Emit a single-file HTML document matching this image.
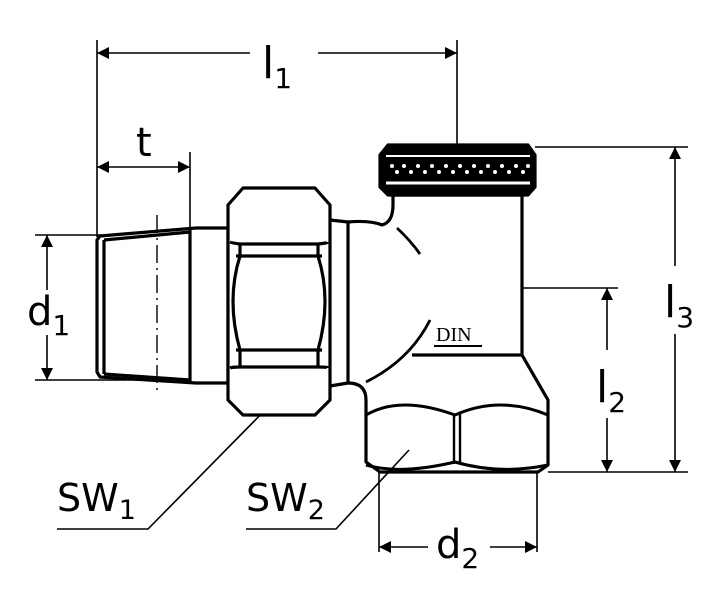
<!DOCTYPE html>
<html><head><meta charset="utf-8"><style>
html,body{margin:0;padding:0;background:#fff;}
svg{display:block;}
text{font-family:"DejaVu Sans","Liberation Sans",sans-serif;fill:#000;}
</style></head><body>
<svg width="722" height="600" viewBox="0 0 722 600" xmlns="http://www.w3.org/2000/svg">
<defs>
<marker id="a" viewBox="0 0 10 10" refX="10" refY="5" markerWidth="14" markerHeight="12" markerUnits="userSpaceOnUse" orient="auto-start-reverse"><path d="M0,0 L10,5 L0,10 z" fill="#000"/></marker>
</defs>
<g stroke="#000" stroke-width="1.6" fill="none">
<line x1="97" y1="40" x2="97" y2="237"/>
<line x1="457" y1="40" x2="457" y2="145"/>
<line x1="190" y1="152" x2="190" y2="230"/>
<line x1="35" y1="235" x2="102" y2="235"/>
<line x1="35" y1="380" x2="150" y2="380"/>
<line x1="535" y1="147" x2="688" y2="147"/>
<line x1="522" y1="288" x2="618" y2="288"/>
<line x1="548" y1="472" x2="688" y2="472"/>
<line x1="379" y1="472" x2="379" y2="552"/>
<line x1="537" y1="472" x2="537" y2="552"/>
<line x1="97" y1="53" x2="250" y2="53" marker-start="url(#a)"/>
<line x1="318" y1="53" x2="457" y2="53" marker-end="url(#a)"/>
<line x1="97" y1="167" x2="190" y2="167" marker-start="url(#a)" marker-end="url(#a)"/>
<line x1="47" y1="235" x2="47" y2="290" marker-start="url(#a)"/>
<line x1="47" y1="335" x2="47" y2="380" marker-end="url(#a)"/>
<line x1="675" y1="147" x2="675" y2="266" marker-start="url(#a)"/>
<line x1="675" y1="334" x2="675" y2="472" marker-end="url(#a)"/>
<line x1="607" y1="288" x2="607" y2="350" marker-start="url(#a)"/>
<line x1="607" y1="418" x2="607" y2="472" marker-end="url(#a)"/>
<line x1="379" y1="547" x2="428" y2="547" marker-start="url(#a)"/>
<line x1="490" y1="547" x2="537" y2="547" marker-end="url(#a)"/>
<polyline points="57,529 148,529 275,400"/>
<polyline points="246,529 336,529 409,450"/>
</g>
<g stroke="#000" stroke-width="3.2" fill="none" stroke-linejoin="round">
<path d="M97,240 L100,236 L196,228 L228,228 L228,383 L196,383 L100,377 L97,372 Z" fill="#fff"/>
<path d="M104,240 L190,232 M104,374 L190,380 M104,240 L104,374 M190,230 L190,382"/>
<path d="M228,205 L243,188 L315,188 L330,205 L330,400 L315,415 L243,415 L228,400 Z" fill="#fff"/>
<path d="M230,242 Q232,243 240,244 L318,244 Q328,243 328,242"/>
<path d="M240,244 L240,256 M318,244 L318,256 M236,256 L322,256"/>
<path d="M240,256 Q226,300 240,350 M318,256 Q332,300 318,350"/>
<path d="M236,350 L322,350 M240,350 L240,368 M318,350 L318,368"/>
<path d="M230,368 Q232,367 240,367 L318,367 Q328,367 328,368"/>
<path d="M330,220 L348,222 L348,383 L330,386"/>
<path d="M348,222 Q370,220 382,225 Q393,222 393,205 L393,195 L522,195 L522,355 L548,400 L548,465 L538,472 L380,472 L366,462 L366,400 Q366,383 348,383"/>
<path d="M397,228 Q410,240 420,254" stroke-width="2.8"/>
<path d="M430,320 Q410,360 366,382" stroke-width="2.8"/>
<path d="M412,355 L522,355"/>
<path d="M366,415 Q400,395 455,415 Q500,395 548,415" stroke-width="3"/>
<path d="M366,465 Q400,475 455,462 Q500,475 548,465" stroke-width="3"/>
<path d="M454,414 L454,464 M460,414 L460,464" stroke-width="2.4"/>
<path d="M388,145 L528,145 L535,155 L535,187 L528,195 L388,195 L380,187 L380,155 Z" fill="#000"/>
</g>
<line x1="157" y1="215" x2="157" y2="395" stroke="#000" stroke-dasharray="18,5,2,5" stroke-width="1.4"/>
<line x1="386" y1="156" x2="530" y2="156" stroke="#fff" stroke-width="2"/>
<line x1="386" y1="183" x2="530" y2="183" stroke="#fff" stroke-width="3"/>
<g fill="#fff">
<circle cx="392" cy="166" r="2"/><circle cx="397" cy="172" r="2"/><circle cx="404" cy="166" r="2"/><circle cx="411" cy="172" r="2"/><circle cx="418" cy="166" r="2"/><circle cx="425" cy="172" r="2"/><circle cx="432" cy="166" r="2"/><circle cx="439" cy="172" r="2"/><circle cx="446" cy="166" r="2"/><circle cx="453" cy="172" r="2"/><circle cx="460" cy="166" r="2"/><circle cx="467" cy="172" r="2"/><circle cx="474" cy="166" r="2"/><circle cx="481" cy="172" r="2"/><circle cx="488" cy="166" r="2"/><circle cx="495" cy="172" r="2"/><circle cx="502" cy="166" r="2"/><circle cx="509" cy="172" r="2"/><circle cx="516" cy="166" r="2"/><circle cx="523" cy="172" r="2"/><circle cx="528" cy="166" r="2"/>
</g>
<text x="436" y="341" font-size="20" style="font-family:'Liberation Serif',serif">DIN</text>
<line x1="434" y1="346" x2="482" y2="346" stroke="#000" stroke-width="2"/>
<text x="262" y="78" font-size="44">l<tspan font-size="28" dy="10">1</tspan></text>
<text x="136" y="156" font-size="40">t</text>
<text x="27" y="325" font-size="40">d<tspan font-size="28" dy="10">1</tspan></text>
<text x="664" y="317" font-size="44">l<tspan font-size="28" dy="10">3</tspan></text>
<text x="596" y="402" font-size="44">l<tspan font-size="28" dy="10">2</tspan></text>
<text x="436" y="558" font-size="40">d<tspan font-size="28" dy="10">2</tspan></text>
<text x="57" y="511" font-size="38">SW<tspan font-size="27" dy="8">1</tspan></text>
<text x="246" y="511" font-size="38">SW<tspan font-size="27" dy="8">2</tspan></text>
</svg>
</body></html>
